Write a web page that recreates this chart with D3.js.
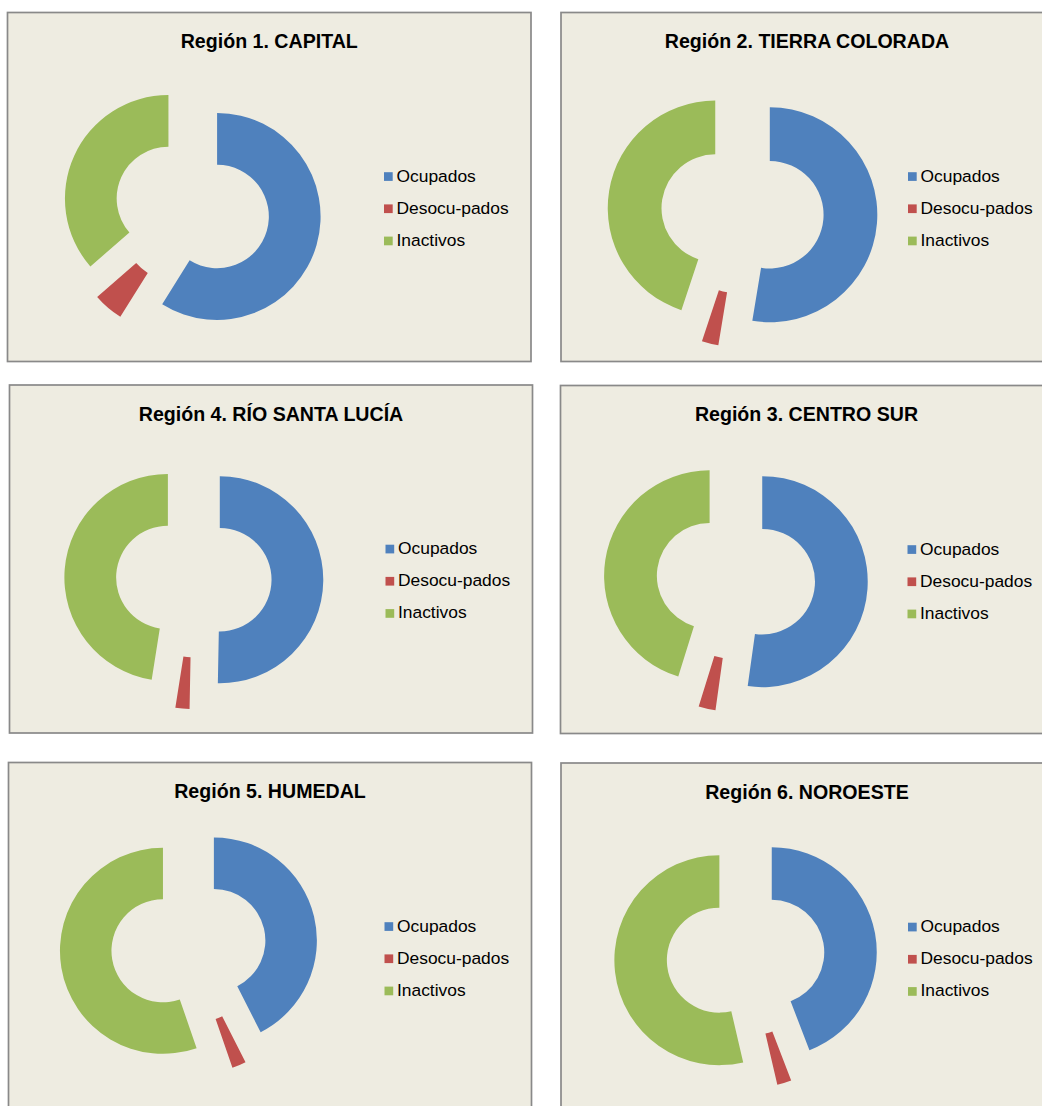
<!DOCTYPE html>
<html>
<head>
<meta charset="utf-8">
<script src="https://cdn.jsdelivr.net/npm/d3@7"></script>
<style>
  html, body { margin: 0; padding: 0; background: #ffffff; }
  svg { display: block; }
  text { font-family: "Liberation Sans", Arial, sans-serif; fill: #000; }
</style>
</head>
<body>
<svg id="chart" width="1042" height="1106"></svg>
<script>
// ---- Data ----
const regions = [
  "Región 1. CAPITAL",
  "Región 2. TIERRA COLORADA",
  "Región 4. RÍO SANTA LUCÍA",
  "Región 3. CENTRO SUR",
  "Región 5. HUMEDAL",
  "Región 6. NOROESTE"
];
const categories = ["Ocupados", "Desocu-pados", "Inactivos"];
const ocupados    = [58.9, 52.6, 50.3, 52.2, 42.5, 44.2];
const desocupados = [4.7, 2.5, 2.2, 2.6, 2.2, 2.2];
const inactivos   = [36.4, 44.9, 47.5, 45.2, 55.3, 53.7];

// ---- Layout (separate from data) ----
const panels = [
  { x: 7.5, y: 12.5, w: 523.5, h: 349, cx: 184.6, cy: 196.8, R: 103.5, ex: 26, lx: 147 },
  { x: 561, y: 12.5, w: 492,   h: 349, cx: 181.4, cy: 200,   R: 107.5, ex: 27.5, lx: 145 },
  { x: 9.5, y: 385,  w: 523,   h: 348, cx: 184.3, cy: 194.5, R: 103.5, ex: 26, lx: 147 },
  { x: 560.5, y: 385.5, w: 492, h: 348, cx: 175.3, cy: 194.3, R: 105.5, ex: 26.5, lx: 145 },
  { x: 8.5, y: 762.5, w: 523,  h: 349, cx: 180.1, cy: 184,   R: 103,   ex: 26, lx: 147 },
  { x: 561, y: 763,  w: 492,   h: 349, cx: 184.7, cy: 194.1, R: 105,   ex: 26.5, lx: 145 }
];
const colors = ["#4F81BD", "#C0504D", "#9BBB59"];
const color = d3.scaleOrdinal().domain(categories).range(colors);

const svg = d3.select("#chart");
const pie = d3.pie().sort(null).value(d => d.value);

regions.forEach((title, i) => {
  const p = panels[i];
  const g = svg.append("g").attr("transform", `translate(${p.x},${p.y})`);

  g.append("rect")
    .attr("width", p.w).attr("height", p.h)
    .attr("fill", "#EEECE1")
    .attr("stroke", "#898989")
    .attr("stroke-width", 1.7);

  g.append("text")
    .attr("x", p.w / 2).attr("y", 35.5)
    .attr("text-anchor", "middle")
    .attr("font-size", "19.6px")
    .attr("font-weight", "bold")
    .text(title);

  const values = [ocupados[i], desocupados[i], inactivos[i]];
  const data = categories.map((c, k) => ({ cat: c, value: values[k] }));
  const arcs = pie(data);
  const arc = d3.arc().innerRadius(p.R * 0.5).outerRadius(p.R);

  const pg = g.append("g").attr("transform", `translate(${p.cx},${p.cy})`);
  pg.selectAll("path").data(arcs).join("path")
    .attr("d", arc)
    .attr("fill", d => color(d.data.cat))
    .attr("transform", d => {
      const mid = (d.startAngle + d.endAngle) / 2;
      return `translate(${p.ex * Math.sin(mid)},${-p.ex * Math.cos(mid)})`;
    });

  const lg = g.append("g").attr("transform", `translate(${p.w - p.lx},164)`);
  const items = lg.selectAll("g").data(categories).join("g")
    .attr("transform", (d, k) => `translate(0,${k * 32.2})`);
  items.append("rect")
    .attr("x", 0).attr("y", -4.3).attr("width", 8.7).attr("height", 8.7)
    .attr("fill", d => color(d));
  items.append("text")
    .attr("x", 12.5).attr("y", 5)
    .attr("font-size", "17.4px")
    .text(d => d);
});
</script>
</body>
</html>
